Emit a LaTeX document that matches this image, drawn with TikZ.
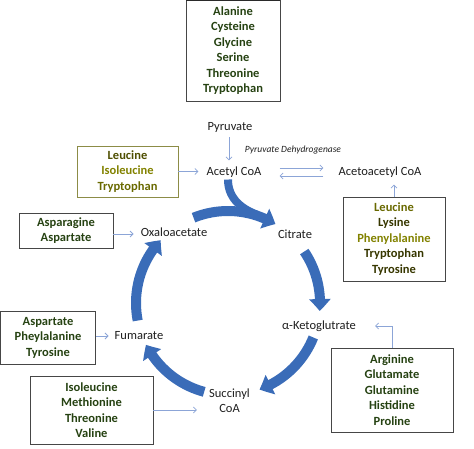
\documentclass[tikz,border=0pt]{standalone}
\usepackage{fontspec}
\setmainfont{Carlito}
\usetikzlibrary{arrows.meta,bending,calc}

\definecolor{cycblue}{RGB}{58,108,184}
\definecolor{linkblue}{RGB}{140,165,215}
\definecolor{aagreen}{RGB}{38,66,18}
\definecolor{olivedark}{RGB}{78,78,0}
\definecolor{olivemid}{RGB}{105,105,0}
\definecolor{oliveyel}{RGB}{130,130,0}
\definecolor{olivebox}{RGB}{140,140,70}
\definecolor{boxgray}{RGB}{70,70,70}
\definecolor{metabgray}{RGB}{30,30,30}

\tikzset{
  aabox/.style={draw=boxgray, line width=0.9pt, align=center, inner sep=0pt,
    text=aagreen, font=\fontsize{12.5}{15.5}\selectfont\bfseries},
  metab/.style={inner sep=2pt, text=metabgray, font=\fontsize{12.5}{15}\selectfont},
  link/.style={draw=linkblue, line width=0.8pt, -{Straight Barb[length=3pt,width=6pt]}},
  cycarrow/.style={draw=cycblue, line width=10pt, -{Triangle[length=12pt,width=21pt,bend]}},
}

\begin{document}
\begin{tikzpicture}[x=1pt,y=-1pt]
\useasboundingbox (0,0) rectangle (474,449);

% amino acid boxes
\node[aabox, minimum width=94pt, minimum height=101pt] (glyco) at (233,50.5) {Alanine\\Cysteine\\Glycine\\Serine\\Threonine\\Tryptophan};
\draw[boxgray!60!black, line width=2pt] (glyco.north west) -- (glyco.north east);
\node[aabox, draw=olivebox, minimum width=101pt, minimum height=51pt] (leu) at (127.5,171.5) {\textcolor{olivedark}{Leucine}\\\textcolor{oliveyel}{Isoleucine}\\\textcolor{olivemid}{Tryptophan}};
\node[aabox, minimum width=102pt, minimum height=84pt] (lys) at (394,239) {\textcolor{olivemid}{Leucine}\\\textcolor{olivedark!70!black}{Lysine}\\\textcolor{oliveyel}{Phenylalanine}\\\textcolor{olivedark!70!black}{Tryptophan}\\\textcolor{olivedark!70!black}{Tyrosine}};
\node[aabox, minimum width=94pt, minimum height=35pt] (asn) at (66,230.5) {Asparagine\\Aspartate};
\node[aabox, minimum width=95pt, minimum height=53pt] (asp) at (48,337.5) {Aspartate\\Pheylalanine\\Tyrosine};
\node[aabox, minimum width=123pt, minimum height=68pt] (ile) at (91.5,410) {Isoleucine\\Methionine\\Threonine\\Valine};
\node[aabox, minimum width=122pt, minimum height=84pt] (arg) at (392,390) {Arginine\\Glutamate\\Glutamine\\Histidine\\Proline};

% metabolites
\node[metab] (pyr) at (230,127) {Pyruvate};
\node[metab] (acetyl) at (234,172) {Acetyl CoA};
\node[metab] (acac) at (380,172) {Acetoacetyl CoA};
\node[metab] (oxa) at (174,232) {Oxaloacetate};
\node[metab] (cit) at (295,234) {Citrate};
\node[metab] (akg) at (319,326) {α-Ketoglutrate};
\node[metab] (fum) at (139,336) {Fumarate};
\node[metab, align=center] (suc) at (229.5,400.5) {Succinyl\\CoA};
\node[inner sep=0pt, text=metabgray, font=\fontsize{9.5}{11}\selectfont\itshape] (pdh) at (293,150) {Pyruvate Dehydrogenase};

% thin connectors
\draw[link, shorten <=3pt, shorten >=4pt] ([xshift=-1pt]pyr.south) -- ([xshift=-5pt]acetyl.north);
\draw[link, shorten >=6pt] (leu.east) -- (leu.east -| acetyl.west);
\draw[link, shorten <=16pt, shorten >=13pt] ([yshift=4pt]acetyl.east) -- ([yshift=4pt]acac.west);
\draw[link, shorten <=13pt, shorten >=16pt] ([yshift=-4pt]acac.west) -- ([yshift=-4pt]acetyl.east);
\draw[link, shorten >=5pt] (lys.north) -- (lys.north |- acac.south);
\draw[link, shorten >=5pt] ([yshift=-2pt]asn.east |- oxa) -- ([yshift=-2pt]oxa.west);
\draw[link, shorten >=4pt] (asp.east |- fum) -- (fum.west);
\draw[link, shorten >=10pt] (ile.east) -- (ile.east -| suc.west);
\draw[link, shorten >=17pt] (arg.north) |- (akg.east);

% cycle
\coordinate (hub) at (228,303);
\draw[draw=cycblue, line width=8pt] ([xshift=-6pt]acetyl.south) .. controls (228,200) and (244,210) .. (258,215);
\foreach \s/\e in {-112/-59, -34/5, 22/70, 105/153, 169/223}
  \draw[cycarrow] ($(hub)+(\s:92)$) arc[start angle=\s, end angle=\e, radius=92];
\end{tikzpicture}
\end{document}
